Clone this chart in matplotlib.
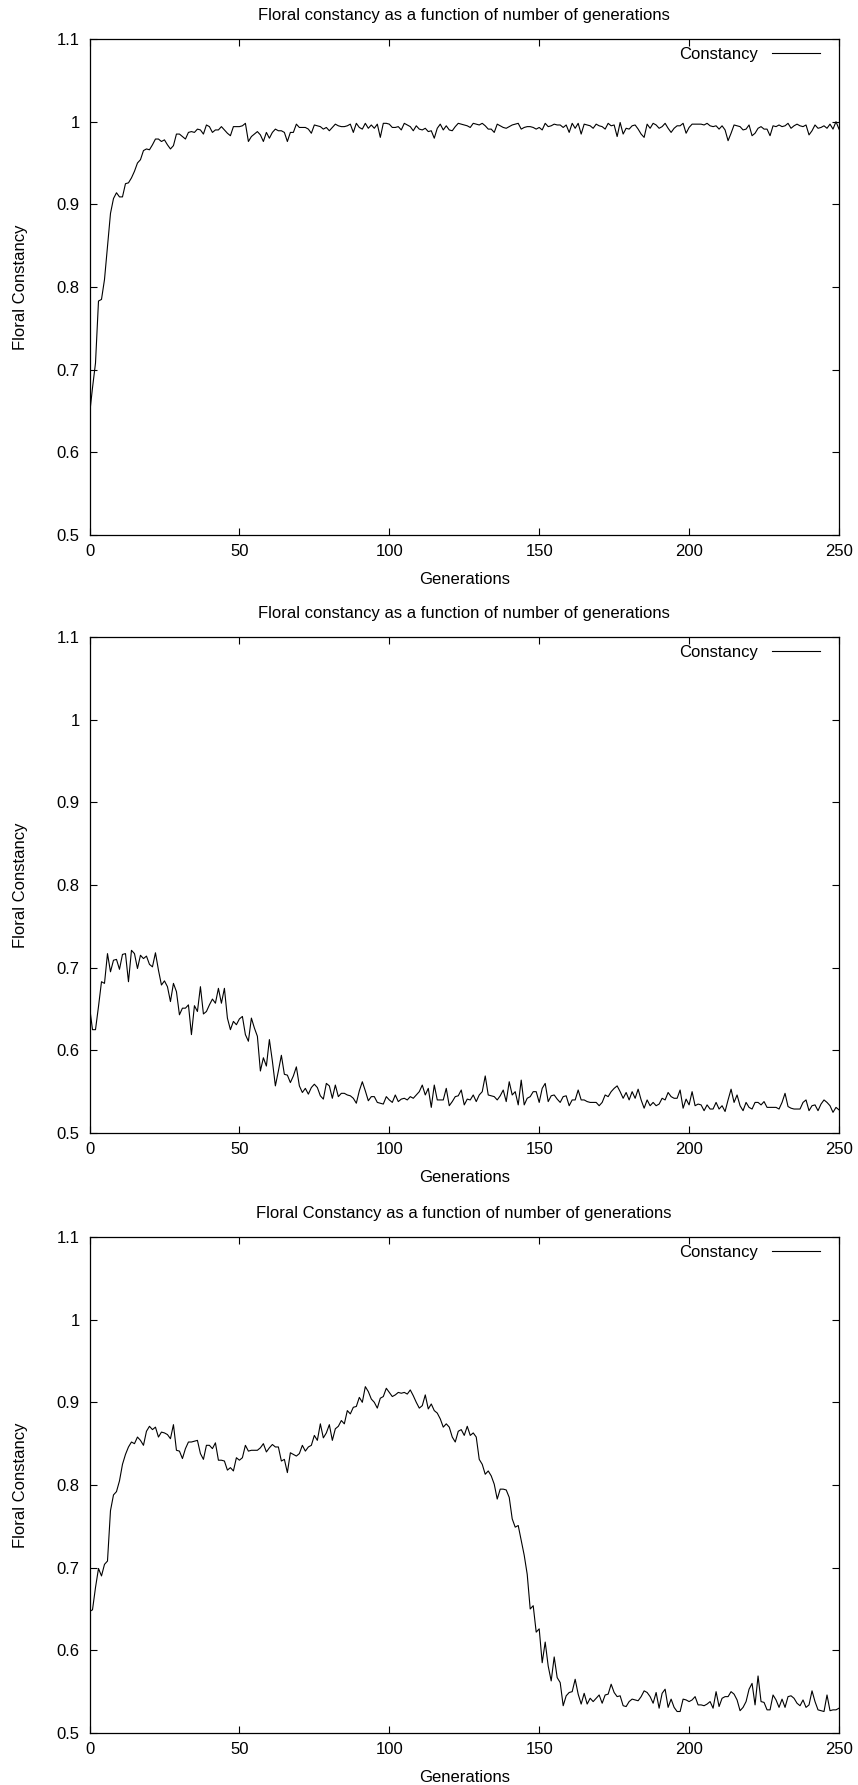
import matplotlib
matplotlib.use("Agg")
import matplotlib.pyplot as plt
import numpy as np

plt.rcParams["font.family"] = ["Liberation Sans", "DejaVu Sans"]

# constancy per generation
constancy_run1 = [
    0.645, 0.678, 0.708, 0.783, 0.785, 0.809, 0.849, 0.889, 0.907, 0.914,
    0.909, 0.909, 0.925, 0.926, 0.932, 0.940, 0.950, 0.954, 0.965, 0.967,
    0.966, 0.972, 0.979, 0.979, 0.976, 0.978, 0.972, 0.967, 0.971, 0.985,
    0.985, 0.982, 0.979, 0.987, 0.988, 0.987, 0.991, 0.990, 0.985, 0.996,
    0.994, 0.987, 0.990, 0.990, 0.994, 0.990, 0.986, 0.983, 0.994, 0.994,
    0.994, 0.995, 0.998, 0.976, 0.982, 0.985, 0.988, 0.984, 0.976, 0.987,
    0.980, 0.987, 0.991, 0.989, 0.989, 0.987, 0.976, 0.987, 0.987, 0.997,
    0.993, 0.993, 0.993, 0.991, 0.986, 0.996, 0.995, 0.994, 0.991, 0.993,
    0.989, 0.993, 0.997, 0.995, 0.994, 0.994, 0.995, 0.997, 0.987, 0.998,
    0.993, 0.991, 0.998, 0.992, 0.996, 0.992, 0.997, 0.981, 0.998, 0.998,
    0.997, 0.993, 0.993, 0.994, 0.990, 0.998, 0.996, 0.994, 0.989, 0.995,
    0.991, 0.990, 0.992, 0.988, 0.989, 0.980, 0.992, 0.997, 0.990, 0.995,
    0.990, 0.989, 0.994, 0.998, 0.997, 0.996, 0.995, 0.993, 0.998, 0.997,
    0.996, 0.998, 0.995, 0.991, 0.991, 0.987, 0.997, 0.995, 0.993, 0.992,
    0.994, 0.996, 0.997, 0.998, 0.991, 0.993, 0.994, 0.994, 0.993, 0.991,
    0.993, 0.990, 0.998, 0.994, 0.995, 0.997, 0.996, 0.996, 0.993, 0.996,
    0.987, 0.998, 0.992, 0.998, 0.985, 0.997, 0.996, 0.995, 0.992, 0.997,
    0.995, 0.994, 0.991, 0.998, 0.995, 0.996, 0.982, 0.999, 0.985, 0.992,
    0.991, 0.995, 0.996, 0.991, 0.985, 0.981, 0.997, 0.992, 0.998, 0.996,
    0.992, 0.994, 0.998, 0.992, 0.987, 0.992, 0.995, 0.995, 0.998, 0.986,
    0.993, 0.997, 0.997, 0.997, 0.997, 0.996, 0.998, 0.995, 0.994, 0.995,
    0.991, 0.995, 0.990, 0.977, 0.986, 0.996, 0.995, 0.994, 0.990, 0.991,
    0.996, 0.983, 0.986, 0.992, 0.994, 0.991, 0.991, 0.983, 0.995, 0.994,
    0.996, 0.994, 0.995, 0.998, 0.992, 0.995, 0.997, 0.995, 0.994, 0.996,
    0.984, 0.989, 0.996, 0.992, 0.993, 0.995, 0.992, 0.997, 0.991, 1.000,
    0.991,
]

constancy_run2 = [
    0.653, 0.625, 0.625, 0.653, 0.683, 0.681, 0.717, 0.695, 0.709, 0.710,
    0.698, 0.716, 0.717, 0.683, 0.721, 0.717, 0.699, 0.715, 0.711, 0.714,
    0.704, 0.701, 0.718, 0.697, 0.679, 0.684, 0.677, 0.659, 0.681, 0.671,
    0.643, 0.651, 0.651, 0.655, 0.619, 0.654, 0.647, 0.677, 0.644, 0.647,
    0.655, 0.662, 0.657, 0.675, 0.657, 0.675, 0.639, 0.625, 0.635, 0.631,
    0.638, 0.641, 0.619, 0.611, 0.639, 0.627, 0.617, 0.575, 0.591, 0.581,
    0.613, 0.587, 0.557, 0.575, 0.594, 0.571, 0.570, 0.561, 0.569, 0.580,
    0.557, 0.549, 0.554, 0.547, 0.555, 0.559, 0.555, 0.545, 0.541, 0.560,
    0.557, 0.542, 0.558, 0.544, 0.548, 0.548, 0.546, 0.545, 0.542, 0.536,
    0.551, 0.562, 0.551, 0.539, 0.544, 0.544, 0.537, 0.536, 0.535, 0.544,
    0.540, 0.537, 0.546, 0.538, 0.541, 0.542, 0.540, 0.544, 0.542, 0.546,
    0.550, 0.558, 0.546, 0.554, 0.531, 0.558, 0.540, 0.540, 0.540, 0.554,
    0.533, 0.538, 0.544, 0.545, 0.552, 0.534, 0.541, 0.540, 0.546, 0.538,
    0.546, 0.550, 0.569, 0.546, 0.545, 0.544, 0.540, 0.545, 0.552, 0.538,
    0.562, 0.546, 0.550, 0.534, 0.564, 0.534, 0.542, 0.544, 0.550, 0.550,
    0.537, 0.554, 0.560, 0.538, 0.545, 0.546, 0.541, 0.537, 0.544, 0.545,
    0.533, 0.540, 0.540, 0.552, 0.540, 0.540, 0.538, 0.537, 0.537, 0.537,
    0.533, 0.537, 0.546, 0.544, 0.550, 0.554, 0.557, 0.550, 0.542, 0.549,
    0.540, 0.550, 0.542, 0.553, 0.540, 0.530, 0.540, 0.533, 0.537, 0.533,
    0.535, 0.542, 0.540, 0.549, 0.544, 0.542, 0.542, 0.552, 0.530, 0.541,
    0.534, 0.550, 0.533, 0.535, 0.534, 0.527, 0.534, 0.529, 0.529, 0.537,
    0.529, 0.533, 0.526, 0.540, 0.553, 0.537, 0.546, 0.533, 0.527, 0.537,
    0.531, 0.529, 0.537, 0.537, 0.534, 0.538, 0.531, 0.531, 0.531, 0.531,
    0.529, 0.537, 0.548, 0.532, 0.530, 0.529, 0.529, 0.529, 0.537, 0.540,
    0.527, 0.533, 0.534, 0.527, 0.535, 0.540, 0.537, 0.533, 0.525, 0.531,
    0.528,
]

constancy_run3 = [
    0.647, 0.649, 0.676, 0.699, 0.690, 0.704, 0.708, 0.769, 0.788, 0.792,
    0.805, 0.825, 0.837, 0.846, 0.852, 0.850, 0.858, 0.854, 0.848, 0.865,
    0.871, 0.867, 0.870, 0.858, 0.864, 0.863, 0.861, 0.856, 0.873, 0.842,
    0.841, 0.832, 0.844, 0.852, 0.852, 0.853, 0.854, 0.838, 0.831, 0.848,
    0.848, 0.844, 0.851, 0.830, 0.830, 0.829, 0.818, 0.821, 0.817, 0.833,
    0.830, 0.833, 0.848, 0.841, 0.842, 0.842, 0.842, 0.845, 0.850, 0.840,
    0.845, 0.849, 0.846, 0.846, 0.829, 0.831, 0.815, 0.839, 0.837, 0.835,
    0.838, 0.848, 0.841, 0.846, 0.848, 0.860, 0.854, 0.874, 0.857, 0.863,
    0.873, 0.854, 0.868, 0.871, 0.878, 0.874, 0.890, 0.886, 0.894, 0.895,
    0.906, 0.900, 0.919, 0.913, 0.904, 0.900, 0.893, 0.905, 0.907, 0.917,
    0.912, 0.907, 0.909, 0.912, 0.911, 0.912, 0.910, 0.915, 0.908, 0.900,
    0.893, 0.896, 0.909, 0.892, 0.898, 0.890, 0.887, 0.880, 0.870, 0.874,
    0.870, 0.858, 0.852, 0.865, 0.867, 0.860, 0.871, 0.860, 0.863, 0.858,
    0.831, 0.825, 0.813, 0.817, 0.811, 0.801, 0.783, 0.795, 0.795, 0.794,
    0.785, 0.759, 0.749, 0.751, 0.733, 0.715, 0.692, 0.650, 0.654, 0.622,
    0.626, 0.585, 0.610, 0.581, 0.563, 0.592, 0.567, 0.561, 0.533, 0.545,
    0.549, 0.550, 0.565, 0.547, 0.535, 0.548, 0.535, 0.542, 0.538, 0.542,
    0.546, 0.536, 0.546, 0.547, 0.559, 0.549, 0.544, 0.545, 0.533, 0.532,
    0.538, 0.541, 0.540, 0.539, 0.544, 0.551, 0.549, 0.544, 0.536, 0.549,
    0.530, 0.548, 0.553, 0.531, 0.541, 0.531, 0.526, 0.526, 0.541, 0.540,
    0.538, 0.540, 0.544, 0.534, 0.534, 0.533, 0.535, 0.538, 0.530, 0.550,
    0.532, 0.542, 0.544, 0.544, 0.550, 0.547, 0.540, 0.527, 0.531, 0.538,
    0.553, 0.560, 0.534, 0.569, 0.538, 0.537, 0.528, 0.528, 0.546, 0.540,
    0.531, 0.541, 0.531, 0.544, 0.545, 0.542, 0.536, 0.533, 0.540, 0.531,
    0.534, 0.551, 0.538, 0.528, 0.527, 0.526, 0.546, 0.527, 0.528, 0.528,
    0.530,
]

titles = [
    "Floral constancy as a function of number of generations",
    "Floral constancy as a function of number of generations",
    "Floral Constancy as a function of number of generations",
]
runs = [constancy_run1, constancy_run2, constancy_run3]

x_ticks = [0, 50, 100, 150, 200, 250]
y_ticks = [0.5, 0.6, 0.7, 0.8, 0.9, 1.0, 1.1]
y_tick_labels = ["0.5", "0.6", "0.7", "0.8", "0.9", "1", "1.1"]

W, H = 858, 1785
fig = plt.figure(figsize=(W / 100, H / 100), dpi=100)

left = 89.5 / W
width = (839 - 89.5) / W
tops = [39, 637, 1237]
height = 496 / H
fs = 12

for top, title, values in zip(tops, titles, runs):
    ax = fig.add_axes([left, 1 - (top + 496) / H, width, height])
    gens = np.arange(len(values))
    ax.plot(gens, values, color="black", linewidth=0.8, label="Constancy")
    ax.set_xlim(0, 250)
    ax.set_ylim(0.5, 1.1)
    ax.set_xticks(x_ticks)
    ax.set_yticks(y_ticks)
    ax.set_yticklabels(y_tick_labels)
    ax.tick_params(direction="in", top=True, right=True, length=5, width=0.8,
                   labelsize=fs)
    ax.tick_params(axis="x", pad=6.5)
    ax.tick_params(axis="y", pad=7)
    for s in ax.spines.values():
        s.set_linewidth(0.9)
    ax.set_title(title, fontsize=fs, pad=13.5)
    ax.set_xlabel("Generations", fontsize=fs, labelpad=9.5)
    ax.set_ylabel("Floral Constancy", fontsize=fs, labelpad=20.5)
    ax.legend(loc="upper right", bbox_to_anchor=(1 - 19 / 750, 1 - 8 / 496),
              frameon=False, markerfirst=False, fontsize=fs, handlelength=2.9,
              handletextpad=0.8, borderpad=0, borderaxespad=0)

fig.savefig("out.png", dpi=100)
